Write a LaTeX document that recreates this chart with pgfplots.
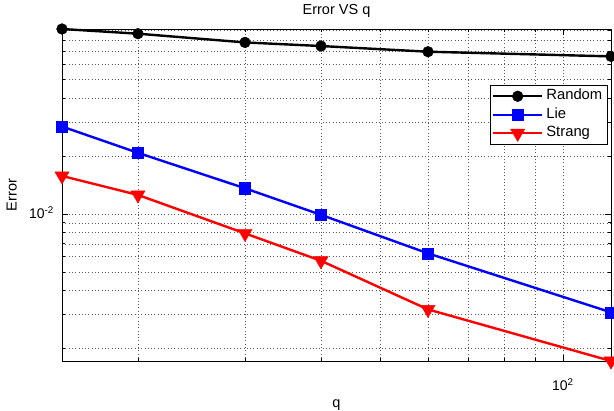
\documentclass[border=0pt]{standalone}
\usepackage{pgfplots}
\pgfplotsset{compat=1.18}
\usepackage{fontspec}
\setmainfont{Liberation Sans}
\begin{document}
\begin{tikzpicture}[x=1pt,y=1pt]
\useasboundingbox (-62,-50) rectangle (552,361);
\begin{axis}[
  at={(0,0)}, anchor=south west,
  scale only axis, width=549pt, height=332pt,
  xmode=log, ymode=log,
  xmin=15, xmax=120, ymin=0.00172, ymax=0.0916,
  xtick={100}, xticklabels={10\textsuperscript{2}},
  ytick={0.01}, yticklabels={10\textsuperscript{-2}},
  minor xtick={20,30,40,50,60,70,80,90},
  minor ytick={0.002,0.003,0.004,0.005,0.006,0.007,0.008,0.009,0.02,0.03,0.04,0.05,0.06,0.07,0.08,0.09},
  grid=both,
  major grid style={black!65, line width=0.5pt, dash pattern=on 0.7pt off 2.6pt},
  minor grid style={black!65, line width=0.5pt, dash pattern=on 0.7pt off 2.6pt},
  tick align=inside,
  major tick length=6pt, minor tick length=3pt,
  tick style={black, line width=0.6pt},
  axis line style={line width=0.9pt},
  font=\fontsize{14}{16}\selectfont,
  title={Error VS q},
  title style={at={(axis description cs:0.5,1.0241)}, anchor=base, inner sep=0pt, font=\fontsize{14.5}{16}\selectfont},
  xlabel={q},
  xlabel style={at={(axis description cs:0.5,-0.1386)}, anchor=base, inner sep=0pt, font=\fontsize{14.5}{16}\selectfont},
  ylabel={Error},
  ylabel style={at={(axis description cs:-0.0825,0.5)}, anchor=base, inner sep=0pt, font=\fontsize{14.5}{16}\selectfont},
  yticklabel style={anchor=base east, inner sep=0pt, xshift=-8pt, yshift=-5pt},
  xticklabel style={anchor=base, inner sep=0pt, yshift=-29.7pt},
  clip=false,
  legend style={at={(axis description cs:0.994,0.831)}, anchor=north east,
    draw=black, line width=0.8pt, fill=white,
    font=\fontsize{14.8}{15}\selectfont,
    inner xsep=2pt, inner ysep=1.5pt, row sep=0pt,
    nodes={inner sep=3pt, text height=9.5pt, text depth=3pt}},
  legend cell align=left,
  legend image code/.code={\draw[mark repeat=2,mark phase=2] plot coordinates {(0pt,0pt) (24.5pt,0pt) (49pt,0pt)};},
]
\addplot[black, line width=2.4pt, mark=*, mark size=5.4pt, mark options={solid, line width=0.4pt, fill=black}]
  coordinates {(15,0.0916) (20,0.0866) (30,0.0780) (40,0.0747) (60,0.0698) (120,0.0660)};
\addlegendentry{Random}
\addplot[blue, line width=2.4pt, mark=square*, mark size=5.6pt, mark options={solid, line width=0.4pt, fill=blue}]
  coordinates {(15,0.0285) (20,0.0208) (30,0.0136) (40,0.0099) (60,0.00624) (120,0.00308)};
\addlegendentry{Lie}
\addplot[red, line width=2.4pt, mark=triangle*, mark size=8.2pt, mark options={solid, rotate=180, line width=0.4pt, fill=red}]
  coordinates {(15,0.01577) (20,0.01256) (30,0.00793) (40,0.00571) (60,0.00319) (120,0.00172)};
\addlegendentry{Strang}
\end{axis}
\end{tikzpicture}
\end{document}
